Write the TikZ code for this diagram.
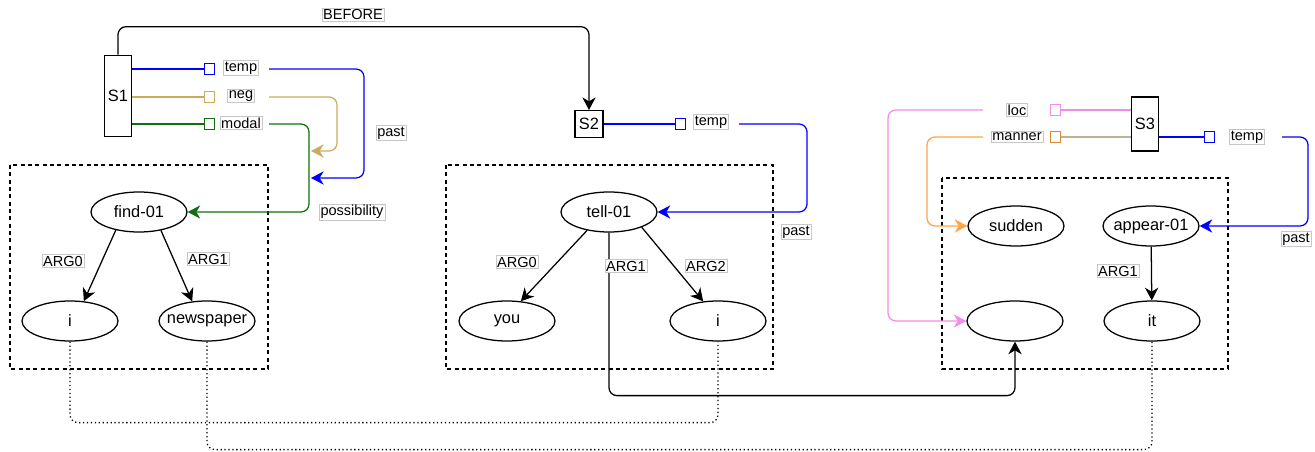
\documentclass[tikz,border=0pt]{standalone}
\usepackage{fontspec}
\setmainfont{Liberation Sans}
\usepackage{tikz}
\usetikzlibrary{arrows.meta, positioning, shapes.geometric}

\definecolor{tempblue}{HTML}{0000FF}
\definecolor{negtan}{HTML}{CCAA5E}
\definecolor{modalgreen}{HTML}{106E10}
\definecolor{locpink}{HTML}{EE8EEA}
\definecolor{mannerorange}{HTML}{FFA448}
\definecolor{mannerport}{HTML}{D98B3A}
\definecolor{mannerstub}{HTML}{C4AE98}

\begin{document}
\begin{tikzpicture}[x=0.75pt, y=-0.75pt, line width=0.95pt,
    font=\fontsize{12.3}{14}\selectfont,
    >={Stealth[length=9.5pt, width=10pt, inset=3pt]},
    amr/.style={ellipse, draw, minimum width=72pt, minimum height=30pt, inner sep=0pt},
    wide/.style={inner xsep=-6pt},
    sent/.style={rectangle, draw, inner sep=0pt},
    port/.style={rectangle, draw, fill=white, minimum size=8pt, inner sep=0pt, line width=0.9pt},
    lbl/.style={font=\fontsize{10.9}{13}\selectfont, draw=black!22, fill=white, inner sep=1pt, line width=0.4pt},
    rel/.style={rounded corners=6pt},
    group/.style={dash pattern=on 3pt off 2.5pt}]
    \useasboundingbox (0,0) rectangle (1315,452);

    % Groups
    \draw[group] (10,165) rectangle (268,369);
    \draw[group] (446,165) rectangle (773,369);
    \draw[group] (942,178) rectangle (1228,369);

    % Sentences
    \node[sent, minimum width=20pt, minimum height=61pt] (S1) at (118,96) {S1};
    \node[sent, minimum width=21pt, minimum height=20pt] (S2) at (589,124) {S2};
    \node[sent, minimum width=20pt, minimum height=40.5pt] (S3) at (1145,124) {S3};

    % Concepts
    \node[amr] (find) at (139,212) {find-01};
    \node[amr] (i1) at (70,321) {i};
    \node[amr, wide] (paper) at (207,321) {newspaper};
    \node[amr] (tell) at (609,212) {tell-01};
    \node[amr] (you) at (507,321) {you};
    \node[amr] (i2) at (718,321) {i};
    \node[amr] (sudden) at (1016,226) {sudden};
    \node[amr, wide] (appear) at (1151,226) {appear-01};
    \node[amr] (blank) at (1015,321) {};
    \node[amr] (it) at (1152,321) {it};

    % Ports
    \node[port, draw=tempblue] (P1t) at (209.5,69) {};
    \node[port, draw=negtan] (P1n) at (209.5,97) {};
    \node[port, draw=modalgreen] (P1m) at (209.5,124) {};
    \node[port, draw=tempblue] (P2t) at (680.5,124) {};
    \node[port, draw=locpink] (P3l) at (1055.5,110) {};
    \node[port, draw=mannerport] (P3m) at (1055.5,137) {};
    \node[port, draw=tempblue] (P3t) at (1209.5,137) {};

    \coordinate (o1t) at (269,69);
    \coordinate (o1n) at (269,97);
    \coordinate (o1m) at (269,124);
    \coordinate (e1t) at (311,178);
    \coordinate (e1n) at (311,151);
    \coordinate (o2t) at (739,124);
    \coordinate (o3l) at (983,110);
    \coordinate (o3m) at (983,137);
    \coordinate (o3t) at (1282,137);

    % Sentence relations
    \draw[rel, ->] (S1.north) -- ++(0,-28) -| (S2.north);
    \draw[tempblue] (S1.east |- P1t) -- (P1t);
    \draw[negtan] (S1.east |- P1n) -- (P1n);
    \draw[modalgreen] (S1.east |- P1m) -- (P1m);
    \draw[modalgreen, rel, ->] (o1m) -- ++(40,0) |- (find.east);
    \draw[negtan, rel, ->] (o1n) -- ++(68,0) |- (e1n);
    \draw[tempblue, rel, ->] (o1t) -- ++(95,0) |- (e1t);

    \draw[tempblue] (S2.east) -- (P2t);
    \draw[tempblue, rel, ->] (o2t) -- ++(68,0) |- (tell.east);

    \draw[locpink] (S3.west |- P3l) -- (P3l);
    \draw[mannerstub] (S3.west |- P3m) -- (P3m);
    \draw[tempblue] (S3.east |- P3t) -- (P3t);
    \draw[locpink, rel, ->] (o3l) -- ++(-95,0) |- (blank.west);
    \draw[mannerorange, rel, ->] (o3m) -- ++(-56,0) |- (sudden.west);
    \draw[tempblue, rel, ->] (o3t) -- ++(26,0) |- (appear.east);

    % Arguments
    \draw[->] (find.218) -- (i1.55);
    \draw[->] (find.320) -- (paper.127);
    \draw[->] (tell.220) -- (you.55);
    \draw[->] (tell.335) -- (i2.127);
    \draw[rel, ->] (tell.south) -- ++(0,163) -| (blank.south);
    \draw[->] (appear) -- (it);

    % Coreference
    \draw[dotted, rel] (i1.south) -- ++(0,81) -| (i2.south);
    \draw[dotted, rel] (paper.south) -- ++(0,108) -| (it.south);

    % Labels
    \node[lbl] (before) at (353,15) {BEFORE};
    \node[lbl] (L1t) at (241,68) {temp};
    \node[lbl] (L1n) at (241,96) {neg};
    \node[lbl] (L1m) at (241,123) {modal};
    \node[lbl] (past1) at (391,133) {past};
    \node[lbl] (poss1) at (352,212) {possibility};
    \node[lbl] (L2t) at (711,122) {temp};
    \node[lbl] (past2) at (796,232) {past};
    \node[lbl] (L3l) at (1017,110) {loc};
    \node[lbl] (L3m) at (1017,137) {manner};
    \node[lbl] (L3t) at (1247,137) {temp};
    \node[lbl] (past3) at (1296,239) {past};
    \node[lbl] (a0f) at (63,261) {ARG0};
    \node[lbl] (a1f) at (208,259) {ARG1};
    \node[lbl] (a0t) at (517,262) {ARG0};
    \node[lbl] (a1t) at (626,266) {ARG1};
    \node[lbl] (a2t) at (706,266) {ARG2};
    \node[lbl] (a1a) at (1118,271) {ARG1};
\end{tikzpicture}
\end{document}
